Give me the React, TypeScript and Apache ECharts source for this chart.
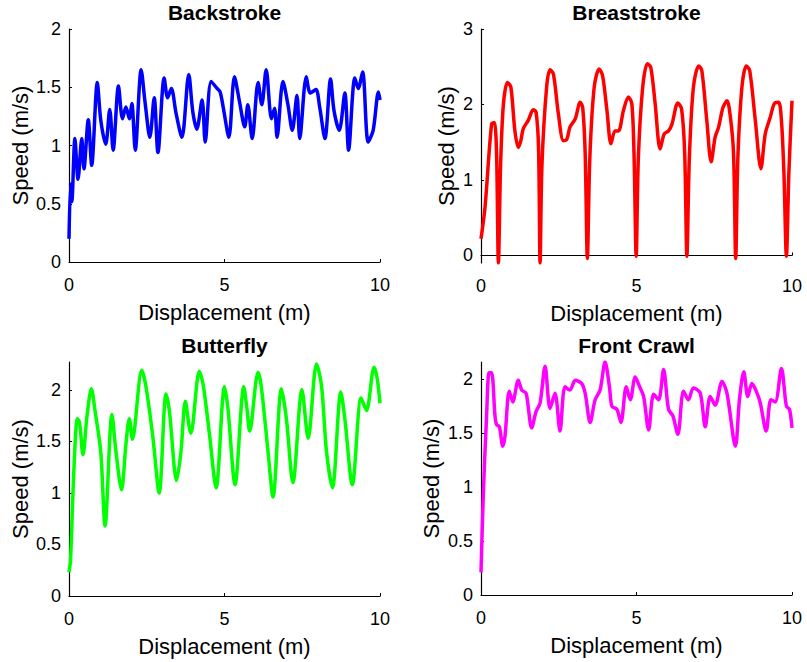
import React, { useEffect, useRef } from "react";
import * as echarts from "echarts";

const backX = [0, 0.05, 0.09, 0.19, 0.29, 0.41, 0.48, 0.62, 0.73, 0.91, 1.02, 1.18, 1.31, 1.42, 1.59, 1.72, 1.83, 1.94, 2.02, 2.13, 2.32, 2.45, 2.6, 2.74, 2.86, 3.06, 3.17, 3.29, 3.44, 3.63, 3.85, 3.98, 4.11, 4.28, 4.38, 4.57, 4.76, 4.86, 4.97, 5.14, 5.32, 5.48, 5.65, 5.75, 5.89, 6.08, 6.2, 6.34, 6.51, 6.61, 6.69, 6.88, 7.04, 7.18, 7.33, 7.42, 7.63, 7.76, 7.94, 8.06, 8.23, 8.41, 8.52, 8.69, 8.87, 8.99, 9.19, 9.3, 9.44, 9.62, 9.78, 9.95, 10.0];
const backY = [0.2, 0.67, 0.52, 1.06, 0.71, 1.06, 0.8, 1.22, 0.83, 1.54, 1.22, 1.01, 1.31, 0.96, 1.51, 1.23, 1.33, 1.23, 1.36, 0.96, 1.65, 1.36, 1.07, 1.41, 0.94, 1.58, 1.41, 1.49, 1.28, 1.07, 1.61, 1.29, 1.14, 1.39, 1.03, 1.55, 1.49, 1.46, 1.31, 1.07, 1.59, 1.38, 1.16, 1.35, 1.06, 1.54, 1.35, 1.65, 1.23, 1.32, 1.07, 1.55, 1.35, 1.13, 1.43, 1.06, 1.59, 1.45, 1.48, 1.33, 1.06, 1.57, 1.3, 1.13, 1.45, 0.96, 1.58, 1.49, 1.63, 1.03, 1.13, 1.46, 1.39];

const breastX = [0, 0.13, 0.34, 0.43, 0.5, 0.56, 0.63, 0.72, 0.85, 0.96, 1.09, 1.2, 1.28, 1.36, 1.52, 1.68, 1.77, 1.85, 1.9, 1.96, 2.11, 2.22, 2.33, 2.49, 2.65, 2.76, 2.86, 3.03, 3.19, 3.27, 3.35, 3.42, 3.5, 3.64, 3.8, 3.91, 4.05, 4.18, 4.31, 4.42, 4.58, 4.74, 4.85, 4.92, 4.99, 5.06, 5.2, 5.35, 5.46, 5.6, 5.76, 5.89, 6.03, 6.14, 6.33, 6.45, 6.55, 6.62, 6.7, 6.83, 7.0, 7.1, 7.26, 7.4, 7.53, 7.64, 7.78, 7.91, 8.02, 8.12, 8.19, 8.26, 8.39, 8.53, 8.64, 8.82, 9.0, 9.14, 9.3, 9.43, 9.57, 9.66, 9.74, 9.82, 9.9, 10.0];
const breastY = [0.22, 0.64, 1.74, 1.76, 1.35, -0.1, 1.2, 2.0, 2.29, 2.23, 1.65, 1.43, 1.52, 1.68, 1.79, 1.93, 1.9, 1.43, -0.1, 1.2, 2.23, 2.46, 2.4, 1.87, 1.52, 1.54, 1.7, 1.81, 2.03, 1.96, 1.35, -0.04, 1.3, 2.23, 2.47, 2.38, 1.92, 1.48, 1.65, 1.65, 1.92, 2.1, 2.01, 1.35, -0.01, 1.3, 2.23, 2.54, 2.49, 2.01, 1.41, 1.61, 1.65, 1.74, 2.02, 1.94, 1.35, -0.01, 1.3, 2.23, 2.51, 2.45, 1.79, 1.24, 1.57, 1.7, 1.96, 2.05, 1.83, 1.35, -0.04, 1.3, 2.23, 2.51, 2.45, 1.79, 1.15, 1.61, 1.83, 2.01, 2.03, 1.79, 1.1, -0.01, 1.1, 2.05];

const flyX = [0, 0.05, 0.16, 0.27, 0.34, 0.45, 0.58, 0.72, 0.84, 1.02, 1.16, 1.38, 1.51, 1.69, 1.83, 1.94, 2.04, 2.34, 2.47, 2.69, 2.9, 3.12, 3.23, 3.46, 3.6, 3.74, 3.87, 3.92, 4.19, 4.32, 4.52, 4.73, 5.0, 5.11, 5.34, 5.62, 5.72, 5.81, 6.08, 6.18, 6.4, 6.56, 6.83, 6.99, 7.2, 7.49, 7.69, 7.96, 8.12, 8.28, 8.47, 8.74, 8.87, 9.11, 9.39, 9.49, 9.57, 9.81, 9.91, 10.0];
const flyY = [0.23, 0.35, 1.24, 1.72, 1.68, 1.37, 1.75, 2.01, 1.79, 1.4, 0.68, 1.76, 1.4, 1.03, 1.47, 1.72, 1.52, 2.19, 2.04, 1.56, 1.0, 1.96, 1.79, 1.12, 1.4, 1.89, 1.63, 1.58, 2.18, 2.04, 1.56, 1.05, 2.03, 1.82, 1.08, 2.03, 1.82, 1.6, 2.17, 2.04, 1.4, 0.96, 2.01, 1.72, 1.1, 2.0, 1.53, 2.25, 2.04, 1.4, 1.05, 1.98, 1.72, 1.08, 1.92, 1.85, 1.8, 2.22, 2.11, 1.87];

const crawlX = [0, 0.08, 0.18, 0.26, 0.34, 0.45, 0.5, 0.59, 0.7, 0.77, 0.91, 1.02, 1.2, 1.31, 1.45, 1.63, 1.77, 1.9, 2.06, 2.22, 2.38, 2.54, 2.7, 2.86, 3.03, 3.24, 3.35, 3.51, 3.67, 3.83, 3.99, 4.13, 4.21, 4.37, 4.5, 4.67, 4.8, 4.96, 5.1, 5.23, 5.39, 5.55, 5.71, 5.87, 6.03, 6.17, 6.33, 6.51, 6.67, 6.83, 7.05, 7.21, 7.37, 7.53, 7.75, 7.91, 8.18, 8.31, 8.45, 8.58, 8.71, 8.85, 8.98, 9.17, 9.32, 9.46, 9.66, 9.82, 9.92, 10.0];
const crawlY = [0.21, 0.98, 1.66, 2.06, 2.06, 1.66, 1.58, 1.56, 1.38, 1.47, 1.89, 1.79, 1.99, 1.9, 1.87, 1.55, 1.7, 1.78, 2.12, 1.73, 1.87, 1.52, 1.93, 1.9, 1.99, 1.96, 1.87, 1.6, 1.81, 1.9, 2.16, 1.93, 1.75, 1.72, 1.6, 1.93, 1.81, 2.02, 1.93, 1.84, 1.53, 1.86, 1.81, 2.09, 1.72, 1.66, 1.49, 1.89, 1.81, 1.92, 1.87, 1.56, 1.84, 1.76, 1.98, 1.87, 1.38, 1.81, 2.07, 1.84, 1.96, 1.89, 1.78, 1.52, 1.81, 1.79, 2.1, 1.75, 1.72, 1.55];

const titles = ["Backstroke", "Breaststroke", "Butterfly", "Front Crawl"];
const colors = ["#0000ff", "#ff0000", "#00ff00", "#ff00ff"];
const xTicks = [0, 5, 10];
const yTicksBack = [0, 0.5, 1, 1.5, 2];
const yTicksBreast = [0, 1, 2, 3];
const yTicksFly = [0, 0.5, 1, 1.5, 2];
const yTicksCrawl = [0, 0.5, 1, 1.5, 2];
const yRanges: [number, number][] = [[0, 2], [-0.1, 3], [0, 2.27], [0, 2.16]];

const FONT = "'Liberation Sans', Arial, Helvetica, sans-serif";

export default function App() {
  const ref = useRef<HTMLDivElement>(null);
  useEffect(() => {
    if (!ref.current) return;
    const chart = echarts.init(ref.current, null, { renderer: "svg" });
    const xs = [backX, breastX, flyX, crawlX];
    const ys = [backY, breastY, flyY, crawlY];
    const yTicks = [yTicksBack, yTicksBreast, yTicksFly, yTicksCrawl];
    const grids = [
      { left: 69, top: 29, width: 311, height: 233 },
      { left: 481, top: 29, width: 311, height: 234 },
      { left: 69, top: 362, width: 311, height: 234 },
      { left: 481, top: 362, width: 311, height: 233 },
    ];
    const nameGaps = [38, 24, 38, 39];
    const axisLine = { show: true, lineStyle: { color: "#000", width: 1.2 } };
    const option: any = {
      animation: false,
      backgroundColor: "#fff",
      grid: grids,
      xAxis: grids.map((_, i) => ({
        type: "value",
        gridIndex: i,
        min: 0,
        max: 10,
        interval: 5,
        name: "Displacement (m)",
        nameLocation: "middle",
        nameGap: 39,
        nameTextStyle: { fontFamily: FONT, fontSize: 22, color: "#000" },
        axisLine,
        axisTick: { show: true, inside: true, length: 3, lineStyle: { color: "#000" }, customValues: xTicks },
        axisLabel: { fontFamily: FONT, fontSize: 18, color: "#000", margin: 14, customValues: xTicks },
        splitLine: { show: false },
      })),
      yAxis: grids.map((_, i) => ({
        type: "value",
        gridIndex: i,
        min: yRanges[i][0],
        max: yRanges[i][1],
        name: "Speed (m/s)",
        nameLocation: "middle",
        nameGap: nameGaps[i],
        nameTextStyle: { fontFamily: FONT, fontSize: 22, color: "#000" },
        axisLine,
        axisTick: { show: true, inside: true, length: 3, lineStyle: { color: "#000" }, customValues: yTicks[i] },
        axisLabel: { fontFamily: FONT, fontSize: 18, color: "#000", margin: 8, customValues: yTicks[i] },
        splitLine: { show: false },
      })),
      graphic: titles.map((t, i) => ({
        type: "text",
        x: grids[i].left + grids[i].width / 2,
        y: i < 2 ? 12 : 345,
        style: {
          text: t,
          fontFamily: FONT,
          fontSize: 21,
          fontWeight: "bold",
          fill: "#000",
          align: "center",
          verticalAlign: "middle",
        },
      })),
      series: titles.map((t, i) => ({
        type: "line",
        name: t,
        xAxisIndex: i,
        yAxisIndex: i,
        data: xs[i].map((x, k) => [x, ys[i][k]]),
        showSymbol: false,
        smooth: 0.3,
        clip: true,
        lineStyle: { color: colors[i], width: 3.5 },
        itemStyle: { color: colors[i] },
      })),
    };
    chart.setOption(option);
    return () => chart.dispose();
  }, []);
  return (
    <div
      ref={ref}
      style={{ position: "absolute", left: 0, top: 0, width: 807, height: 662, background: "#fff" }}
    />
  );
}
